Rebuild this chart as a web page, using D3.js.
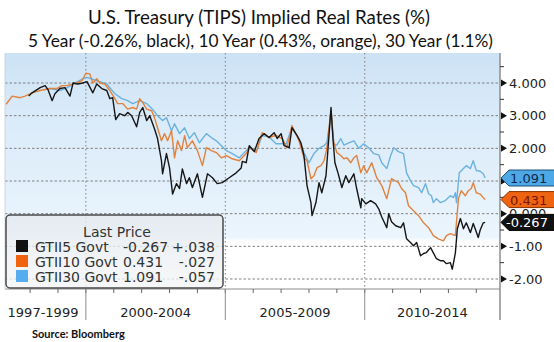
<!DOCTYPE html>
<html><head><meta charset="utf-8">
<script src="https://cdn.jsdelivr.net/npm/d3@7"></script>
<style>body{margin:0;background:#fff}svg{display:block}</style>
</head><body><svg id="c" width="554" height="342"></svg>
<script>
const titleText = "U.S. Treasury (TIPS) Implied Real Rates (%)";
const subtitleText = "5 Year (-0.26%, black), 10 Year (0.43%, orange), 30 Year (1.1%)";
const sourceText = "Source:  Bloomberg";
const periodLabels = ["1997-1999", "2000-2004", "2005-2009", "2010-2014"];
const periodBounds = [1997.1, 2000, 2005, 2010, 2014.85];
const yTicks = [-2, -1, 0, 1, 2, 3, 4];
const yTickLabels = ["-2.00", "-1.00", "0.000", "", "2.000", "3.000", "4.000"];

const dates5 = [1997.95,1998.07,1998.36,1998.54,1998.64,1998.79,1998.89,1999.07,1999.25,1999.43,1999.54,1999.71,1999.89,2000.04,2000.25,2000.39,2000.57,2000.75,2000.86,2000.96,2001.07,2001.21,2001.39,2001.5,2001.64,2001.82,2001.93,2002.04,2002.18,2002.29,2002.46,2002.57,2002.71,2002.75,2002.89,2003.0,2003.11,2003.25,2003.36,2003.46,2003.61,2003.71,2003.82,2004.0,2004.18,2004.36,2004.54,2004.71,2004.89,2005.14,2005.39,2005.57,2005.61,2005.75,2005.86,2006.04,2006.21,2006.39,2006.57,2006.75,2006.86,2007.0,2007.11,2007.29,2007.39,2007.57,2007.71,2007.82,2007.93,2008.07,2008.11,2008.25,2008.36,2008.46,2008.61,2008.71,2008.79,2008.86,2008.93,2009.04,2009.18,2009.32,2009.43,2009.61,2009.71,2009.86,2009.89,2010.04,2010.21,2010.39,2010.5,2010.61,2010.79,2010.86,2010.96,2011.11,2011.29,2011.39,2011.5,2011.64,2011.75,2011.86,2012.0,2012.11,2012.21,2012.36,2012.46,2012.57,2012.71,2012.82,2012.93,2013.07,2013.14,2013.25,2013.32,2013.43,2013.54,2013.64,2013.79,2013.89,2013.96,2014.07,2014.14,2014.25,2014.32];
const gtii5 = [3.6,3.7,3.86,3.92,3.8,3.46,3.67,3.83,3.86,3.6,4.0,3.97,4.0,4.04,3.7,3.97,3.83,3.77,3.52,3.55,2.88,3.06,3.0,3.1,3.0,2.66,3.1,3.25,2.85,3.0,2.6,2.3,1.62,1.22,1.84,1.4,0.6,0.92,0.77,1.37,0.92,1.1,0.8,1.22,0.5,1.22,1.1,0.92,0.95,1.1,1.25,1.4,1.6,1.56,2.08,1.9,2.3,2.45,2.33,2.48,2.3,2.45,2.08,2.02,2.63,2.4,2.17,1.78,0.86,0.34,-0.06,0.34,0.95,0.64,1.16,2.3,3.25,2.3,1.56,1.25,0.8,1.16,0.95,1.22,0.77,0.18,0.46,0.3,0.4,0.3,0.15,-0.1,-0.43,0.0,-0.25,-0.37,-0.43,-0.28,-0.77,-0.88,-0.98,-0.88,-1.29,-1.22,-1.19,-1.04,-1.2,-1.38,-1.44,-1.44,-1.53,-1.5,-1.7,-1.2,-0.46,-0.15,-0.46,-0.28,-0.58,-0.3,-0.46,-0.73,-0.5,-0.28,-0.267];

const dates10 = [1997.14,1997.36,1997.64,1997.82,1998.07,1998.36,1998.71,1998.96,1999.14,1999.32,1999.68,1999.86,2000.0,2000.14,2000.25,2000.39,2000.5,2000.68,2000.86,2001.04,2001.14,2001.32,2001.5,2001.68,2001.82,2001.93,2002.04,2002.18,2002.36,2002.46,2002.57,2002.71,2002.82,2002.93,2003.07,2003.18,2003.29,2003.43,2003.54,2003.64,2003.82,2004.0,2004.18,2004.32,2004.5,2004.68,2004.86,2005.04,2005.25,2005.5,2005.75,2005.86,2006.11,2006.32,2006.57,2006.82,2007.04,2007.21,2007.39,2007.64,2007.82,2007.93,2008.07,2008.18,2008.29,2008.43,2008.54,2008.64,2008.79,2008.89,2009.0,2009.14,2009.25,2009.36,2009.5,2009.61,2009.71,2009.86,2009.96,2010.07,2010.25,2010.43,2010.61,2010.79,2010.96,2011.11,2011.21,2011.32,2011.46,2011.57,2011.75,2011.93,2012.11,2012.29,2012.46,2012.64,2012.82,2012.93,2013.07,2013.25,2013.36,2013.46,2013.61,2013.71,2013.82,2013.89,2014.0,2014.14,2014.25,2014.32];
const gtii10 = [3.35,3.6,3.55,3.6,3.7,3.77,3.83,3.83,3.92,3.92,4.0,4.07,4.3,4.28,4.0,4.13,4.0,3.97,3.77,3.52,3.37,3.37,3.2,3.25,3.2,3.52,3.4,3.2,3.15,2.94,2.63,2.23,2.45,2.23,2.54,1.71,2.23,1.93,2.39,2.02,2.23,1.93,1.47,2.02,1.93,1.87,1.71,1.78,1.68,1.62,1.84,2.02,1.87,2.48,2.33,2.4,2.3,2.02,2.7,2.23,1.71,1.62,1.07,1.16,1.41,1.47,1.62,1.99,3.15,2.17,1.87,1.78,1.68,1.71,1.56,1.71,1.78,1.25,1.47,1.25,1.56,1.1,0.86,0.46,1.07,1.0,0.95,0.77,0.64,0.24,0.09,-0.06,-0.28,-0.43,-0.67,-0.77,-0.83,-0.67,-0.61,-0.67,0.46,0.7,0.55,0.7,0.77,0.95,0.64,0.6,0.49,0.431];

const dates30 = [1998.54,1998.71,1999.07,1999.32,1999.54,1999.89,2000.04,2000.39,2000.75,2001.04,2001.29,2001.5,2001.68,2001.93,2002.18,2002.39,2002.57,2002.75,2002.89,2003.07,2003.18,2003.36,2003.54,2003.71,2003.89,2004.07,2004.32,2004.5,2004.68,2004.86,2005.04,2005.25,2005.5,2005.75,2005.86,2006.11,2006.32,2006.57,2006.82,2006.93,2007.18,2007.39,2007.64,2007.82,2008.0,2008.18,2008.36,2008.54,2008.64,2008.79,2008.89,2009.0,2009.14,2009.25,2009.43,2009.61,2009.79,2009.96,2010.14,2010.32,2010.5,2010.61,2010.79,2010.93,2011.04,2011.21,2011.39,2011.5,2011.64,2011.75,2011.93,2012.04,2012.18,2012.29,2012.39,2012.46,2012.57,2012.71,2012.89,2013.07,2013.18,2013.25,2013.29,2013.39,2013.54,2013.64,2013.79,2013.89,2014.0,2014.14,2014.25,2014.32];
const gtii30 = [3.8,3.83,3.77,3.85,3.97,4.13,4.17,4.07,3.97,3.67,3.52,3.46,3.37,3.46,3.37,3.2,3.0,2.85,2.94,2.54,2.75,2.45,2.63,2.3,2.48,2.17,2.45,2.33,2.23,2.08,1.93,1.84,1.71,1.93,2.05,1.9,2.39,2.35,2.14,2.14,2.14,2.63,2.3,1.87,1.56,1.84,2.0,2.08,2.17,3.06,2.14,2.1,2.3,2.1,2.17,2.23,2.0,2.14,2.02,1.84,1.8,1.56,1.38,1.78,2.02,1.9,1.84,1.25,1.01,0.86,0.8,0.64,0.92,0.61,0.55,0.34,0.46,0.34,0.4,0.55,0.49,0.64,0.34,1.25,1.38,1.47,1.38,1.62,1.32,1.3,1.22,1.091];

const legendNames = ["GTII5 Govt", "GTII10 Govt", "GTII30 Govt"];
const lastPrices = ["-0.267", "0.431", "1.091"];
const changes = ["+.038", "-.027", "-.057"];

const svg = d3.select("#c");
const L = 5, R = 500, T = 53, B = 289, BAND = 320;
const x = d3.scaleLinear().domain([periodBounds[0], periodBounds[4]]).range([L, R]);
const y = d3.scaleLinear().domain([-2, 4]).range([279, 83]);

const defs = svg.append("defs");
const g = defs.append("linearGradient").attr("id", "bg").attr("x1", 0).attr("x2", 0).attr("y1", 0).attr("y2", 1);
[[0, "#cce2f5"], [0.2, "#d7e9f8"], [0.55, "#e3f0fb"], [0.78, "#ebf5fd"], [0.8, "#ffffff"], [1, "#ffffff"]]
  .forEach(([o, c]) => g.append("stop").attr("offset", o).attr("stop-color", c));
const lg = defs.append("linearGradient").attr("id", "lg").attr("x1", 0).attr("x2", 0).attr("y1", 0).attr("y2", 1);
[[0, "#e4e9ee"], [1, "#f3f5f7"]].forEach(([o, c]) => lg.append("stop").attr("offset", o).attr("stop-color", c));
defs.append("clipPath").attr("id", "zeroClip").append("rect")
  .attr("x", R + 2).attr("y", y(0) - 7).attr("width", 60).attr("height", 7);

svg.append("rect").attr("x", L).attr("y", T).attr("width", R - L).attr("height", B - T).attr("fill", "url(#bg)");

// gridlines
svg.append("g").selectAll("line").data(yTicks).join("line")
  .attr("x1", L).attr("x2", R).attr("y1", d => y(d)).attr("y2", d => y(d))
  .attr("stroke", "#808080").attr("stroke-width", 1).attr("stroke-dasharray", "2.5,2");
svg.append("g").selectAll("line").data(periodBounds.slice(1, 4)).join("line")
  .attr("x1", d => x(d)).attr("x2", d => x(d)).attr("y1", T).attr("y2", B)
  .attr("stroke", "#808080").attr("stroke-width", 1).attr("stroke-dasharray", "1.5,2.5");

// lines
const line = d3.line().x(d => x(d[0])).y(d => y(d[1]));
const series = [
  { d: dates30, v: gtii30, c: "#6cb2de" },
  { d: dates10, v: gtii10, c: "#e2823d" },
  { d: dates5, v: gtii5, c: "#161616" }
];
series.forEach(s => {
  svg.append("path").datum(s.d.map((t, i) => [t, s.v[i]]))
    .attr("d", line).attr("fill", "none").attr("stroke", s.c)
    .attr("stroke-width", 1.4).attr("stroke-linejoin", "round");
});

// axes frame
svg.append("line").attr("x1", R).attr("x2", R).attr("y1", T).attr("y2", BAND).attr("stroke", "#8c8c8c").attr("stroke-width", 1.5);
svg.append("line").attr("x1", L).attr("x2", R).attr("y1", B).attr("y2", B).attr("stroke", "#8c8c8c").attr("stroke-width", 1);
svg.append("line").attr("x1", L).attr("x2", L).attr("y1", T).attr("y2", B).attr("stroke", "#c8d6e2").attr("stroke-width", 1);

// bottom axis: yearly ticks and period separators
const years = d3.range(1998, 2015);
svg.append("g").selectAll("line").data(years).join("line")
  .attr("x1", d => x(d)).attr("x2", d => x(d)).attr("y1", B).attr("y2", B + 4)
  .attr("stroke", "#666").attr("stroke-width", 1);
svg.append("g").selectAll("line").data(periodBounds.slice(1, 4)).join("line")
  .attr("x1", d => x(d)).attr("x2", d => x(d)).attr("y1", B).attr("y2", BAND)
  .attr("stroke", "#8c8c8c").attr("stroke-width", 1);
svg.append("g").selectAll("text").data(periodLabels).join("text")
  .attr("x", (d, i) => i === 0 ? 43 : (x(periodBounds[i]) + x(periodBounds[i + 1])) / 2)
  .attr("y", 317).attr("text-anchor", "middle")
  .attr("font-family", "DejaVu Sans").attr("font-size", 13).attr("fill", "#222").text(d => d);

// right axis ticks
const ra = svg.append("g");
ra.selectAll("path").data(yTicks).join("path")
  .attr("d", d => `M${R + 1},${y(d) - 3.5}L${R + 7},${y(d)}L${R + 1},${y(d) + 3.5}Z`).attr("fill", "#111");
ra.selectAll("line").data(d3.range(-1.5, 4.6, 1)).join("line")
  .attr("x1", R).attr("x2", R + 4).attr("y1", d => y(d)).attr("y2", d => y(d)).attr("stroke", "#333");
ra.selectAll("text").data(yTicks.filter((d, i) => yTickLabels[i] && d !== 0)).join("text")
  .attr("x", R + 9).attr("y", d => y(d) + 4.5)
  .attr("font-family", "DejaVu Sans").attr("font-size", 13).attr("fill", "#222")
  .text(d => yTickLabels[yTicks.indexOf(d)]);
// the 0.000 label is mostly hidden behind the value tags
ra.append("text").attr("x", R + 9).attr("y", y(0) + 4.5).attr("clip-path", "url(#zeroClip)")
  .attr("font-family", "DejaVu Sans").attr("font-size", 13).attr("fill", "#222")
  .text(yTickLabels[yTicks.indexOf(0)]);

// value tags
const tags = [
  { v: +lastPrices[2], fill: "#4fa8e6", stroke: "#1d4f7a", text: "#0e2a4d", label: lastPrices[2], tx: R + 10 },
  { v: +lastPrices[1], fill: "#ef6411", stroke: "#8a3000", text: "#7a1500", label: lastPrices[1], tx: R + 10 },
  { v: +lastPrices[0], fill: "#111111", stroke: "#000", text: "#ffffff", label: lastPrices[0], tx: R + 6 }
];
tags.forEach(t => {
  const cy = y(t.v), h = 8;
  svg.append("path").attr("d", `M${R + 1},${cy}L${R + 9},${cy - h}L${560},${cy - h}L${560},${cy + h}L${R + 9},${cy + h}Z`)
    .attr("fill", t.fill).attr("stroke", t.stroke).attr("stroke-width", 1);
  svg.append("text").attr("x", t.tx).attr("y", cy + 5)
    .attr("font-family", "DejaVu Sans").attr("font-size", 13).attr("fill", t.text).text(t.label);
});

// legend
const lgX = 6, lgY = 215, lgW = 217, lgH = 73;
svg.append("rect").attr("x", lgX).attr("y", lgY).attr("width", lgW).attr("height", lgH).attr("rx", 4)
  .attr("fill", "url(#lg)").attr("fill-opacity", 0.78).attr("stroke", "#4a4a4a").attr("stroke-width", 1.5);
svg.append("text").attr("x", 117).attr("y", 237).attr("text-anchor", "middle")
  .attr("font-family", "DejaVu Sans").attr("font-size", 14).attr("fill", "#333").text("Last Price");
const swatch = ["#111111", "#f0640f", "#55adf0"];
legendNames.forEach((n, i) => {
  const by = 252 + i * 15;
  svg.append("rect").attr("x", 16).attr("y", by - 12).attr("width", 12).attr("height", 12).attr("fill", swatch[i]);
  const tx = svg.append("g").attr("font-family", "DejaVu Sans").attr("font-size", 14).attr("fill", "#333");
  tx.append("text").attr("x", 35).attr("y", by).text(n);
  tx.append("text").attr("x", 123).attr("y", by).text(lastPrices[i]);
  tx.append("text").attr("x", 215).attr("y", by).attr("text-anchor", "end").text(changes[i]);
});

// titles
svg.append("text").attr("x", 259).attr("y", 24).attr("text-anchor", "middle")
  .attr("textLength", 342).attr("lengthAdjust", "spacingAndGlyphs")
  .attr("font-family", "Lato").attr("font-size", 20).attr("fill", "#111").text(titleText);
svg.append("text").attr("x", 260.5).attr("y", 47).attr("text-anchor", "middle")
  .attr("textLength", 465).attr("lengthAdjust", "spacingAndGlyphs")
  .attr("font-family", "Lato").attr("font-size", 17).attr("fill", "#111").text(subtitleText);
svg.append("text").attr("x", 32).attr("y", 338)
  .attr("font-family", "Lato").attr("font-weight", "bold").attr("font-size", 11).attr("fill", "#111").text(sourceText);
</script></body></html>
